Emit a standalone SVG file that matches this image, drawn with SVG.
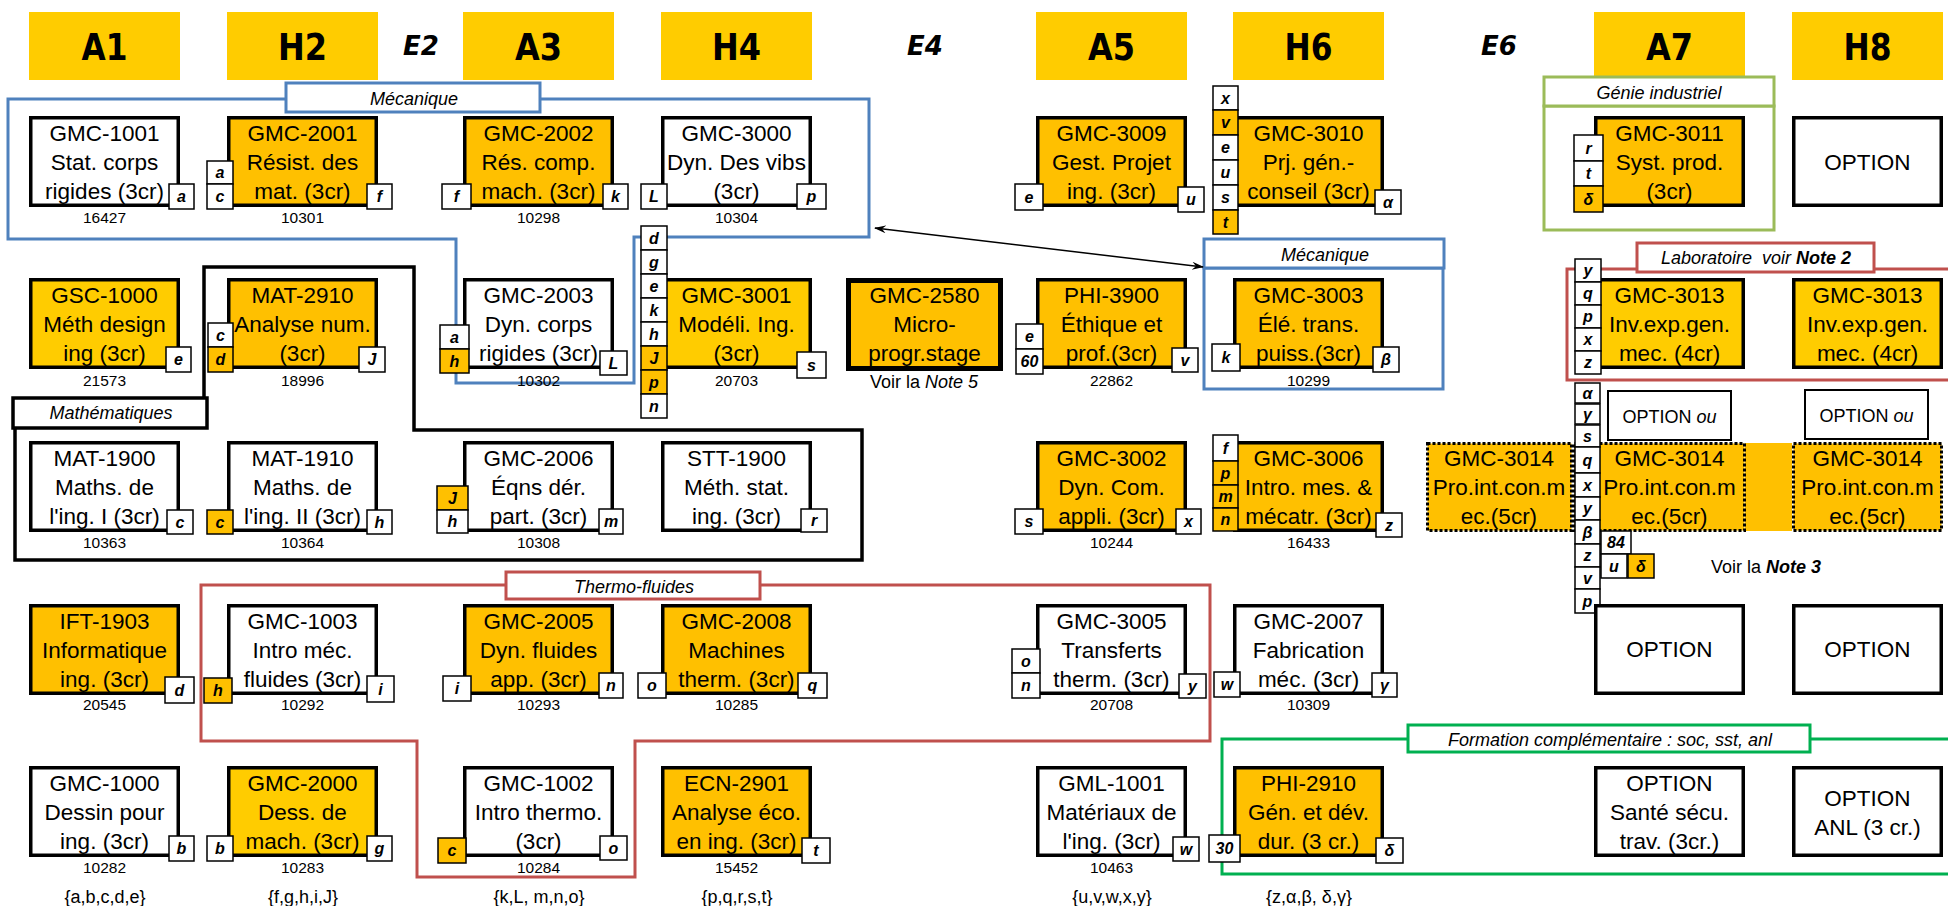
<svg xmlns="http://www.w3.org/2000/svg" width="1948" height="906" viewBox="0 0 1948 906">
<style>
.hd{fill:#FFCC00}
.ht{font-family:"DejaVu Sans",sans-serif;font-weight:bold;font-size:37px;text-anchor:middle}
.et{font-family:"DejaVu Sans",sans-serif;font-weight:bold;font-style:italic;font-size:26px;text-anchor:middle}
.bw{fill:#fff;stroke:#000;stroke-width:3.5}
.bo{fill:#FFC000;stroke:#000;stroke-width:3.5}
.by{fill:#FFCC00;stroke:#000;stroke-width:3.5}
.bd{fill:#FFC000;stroke:#000;stroke-width:3;stroke-dasharray:3 2}
.ct{font-family:"Liberation Sans",Arial,sans-serif;font-size:22.5px;text-anchor:middle;fill:#000}
.nm{font-family:"Liberation Sans",Arial,sans-serif;font-size:15.5px;text-anchor:middle}
.lw{fill:#fff;stroke:#000;stroke-width:1.5}
.lo{fill:#FFC000;stroke:#000;stroke-width:1.5}
.lt{font-family:"Liberation Sans",Arial,sans-serif;font-size:16px;font-weight:bold;font-style:italic;text-anchor:middle}
.gl{font-family:"Liberation Sans",Arial,sans-serif;font-size:18px;font-style:italic;text-anchor:middle}
.tx{font-family:"Liberation Sans",Arial,sans-serif;font-size:18px;text-anchor:middle}
.blue{fill:none;stroke:#4F81BD;stroke-width:3}
.bluel{fill:#fff;stroke:#4F81BD;stroke-width:3}
.red{fill:none;stroke:#C0504D;stroke-width:3}
.redl{fill:#fff;stroke:#C0504D;stroke-width:3}
.blk{fill:none;stroke:#000;stroke-width:3.5}
.blkl{fill:#fff;stroke:#000;stroke-width:3.5}
.gr1{fill:none;stroke:#9BBB59;stroke-width:3}
.gr1l{fill:#fff;stroke:#9BBB59;stroke-width:3}
.gr2{fill:none;stroke:#00B050;stroke-width:3}
.gr2l{fill:#fff;stroke:#00B050;stroke-width:3}
.opt{fill:#fff;stroke:#000;stroke-width:2}
</style>
<defs>
<marker id="ah" viewBox="0 0 12 10" refX="11" refY="5" markerWidth="12" markerHeight="10" markerUnits="userSpaceOnUse" orient="auto-start-reverse">
<path d="M0,1 L12,5 L0,9 L4,5 Z" fill="#000"/>
</marker>
</defs>
<rect width="1948" height="906" fill="#fff"/>

<g id="headers">
<rect class="hd" x="29" y="12" width="151" height="68"/><text class="ht" x="104.5" y="60" textLength="46" lengthAdjust="spacingAndGlyphs">A1</text>
<rect class="hd" x="227" y="12" width="151" height="68"/><text class="ht" x="302.5" y="60" textLength="49" lengthAdjust="spacingAndGlyphs">H2</text>
<rect class="hd" x="463" y="12" width="151" height="68"/><text class="ht" x="538.5" y="60" textLength="47" lengthAdjust="spacingAndGlyphs">A3</text>
<rect class="hd" x="661" y="12" width="151" height="68"/><text class="ht" x="736.5" y="60" textLength="49" lengthAdjust="spacingAndGlyphs">H4</text>
<rect class="hd" x="1036" y="12" width="151" height="68"/><text class="ht" x="1111.5" y="60" textLength="47" lengthAdjust="spacingAndGlyphs">A5</text>
<rect class="hd" x="1233" y="12" width="151" height="68"/><text class="ht" x="1308.5" y="60" textLength="48" lengthAdjust="spacingAndGlyphs">H6</text>
<rect class="hd" x="1594" y="12" width="151" height="68"/><text class="ht" x="1669.5" y="60" textLength="47" lengthAdjust="spacingAndGlyphs">A7</text>
<rect class="hd" x="1792" y="12" width="151" height="68"/><text class="ht" x="1867.5" y="60" textLength="48" lengthAdjust="spacingAndGlyphs">H8</text>
<text class="et" x="421" y="55">E2</text>
<text class="et" x="925" y="55">E4</text>
<text class="et" x="1499" y="55">E6</text>
</g>

<g id="connectors">
<polygon class="blue" points="8,99 869,99 869,237 634,237 634,383 456,383 456,239 8,239"/>
<rect class="bluel" x="286" y="83" width="254" height="29"/>
<text class="gl" x="414" y="105">Mécanique</text>
<rect class="blue" x="1204" y="268" width="239" height="121"/>
<rect class="bluel" x="1204" y="239" width="240" height="29"/>
<text class="gl" x="1325" y="261">Mécanique</text>
<polygon class="blk" points="15,413 15,560 862,560 862,430 414,430 414,267 204,267 204,413"/>
<rect class="blkl" x="13" y="398" width="194" height="30"/>
<text class="gl" x="111" y="419">Mathématiques</text>
<polygon class="red" points="201,585 1210,585 1210,741 635,741 635,877 417,877 417,741 201,741"/>
<rect class="redl" x="506" y="572" width="254" height="27"/>
<text class="gl" x="634" y="593">Thermo-fluides</text>
<polygon class="red" points="1965,269 1567,269 1567,380 1965,380"/>
<rect class="redl" x="1637" y="243" width="237" height="29"/>
<text class="gl" x="1756" y="264" style="white-space:pre">Laboratoire  voir <tspan font-weight="bold">Note 2</tspan></text>
<rect class="gr1" x="1544" y="106" width="230" height="124"/>
<rect class="gr1l" x="1544" y="77" width="230" height="29"/>
<text class="gl" x="1659" y="99">Génie industriel</text>
<polygon class="gr2" points="1965,739 1222,739 1222,874 1965,874"/>
<rect class="gr2l" x="1408" y="725" width="402" height="27"/>
<text class="gl" x="1610" y="746">Formation complémentaire : soc, sst, anl</text>
<line x1="875" y1="228" x2="1203" y2="267" stroke="#000" stroke-width="1.5" marker-start="url(#ah)" marker-end="url(#ah)"/>
</g>

<!-- Row 1 -->
<g id="GMC-1001">
<rect class="bw" x="30.75" y="117.75" width="147.5" height="87.5"/>
<text class="ct" x="104.5" y="141">GMC-1001</text><text class="ct" x="104.5" y="170">Stat. corps</text><text class="ct" x="104.5" y="199">rigides (3cr)</text>
<text class="nm" x="104.5" y="223">16427</text>
<rect class="lw" x="169" y="184" width="25" height="25"/><text class="lt" x="181.5" y="202">a</text>
</g>
<g id="GMC-2001">
<rect class="bo" x="228.75" y="117.75" width="147.5" height="87.5"/>
<text class="ct" x="302.5" y="141">GMC-2001</text><text class="ct" x="302.5" y="170">Résist. des</text><text class="ct" x="302.5" y="199">mat. (3cr)</text>
<text class="nm" x="302.5" y="223">10301</text>
<rect class="lw" x="207" y="161" width="26" height="23"/><text class="lt" x="220" y="178">a</text>
<rect class="lw" x="207" y="184" width="26" height="25"/><text class="lt" x="220" y="202">c</text>
<rect class="lw" x="367" y="184" width="25" height="25"/><text class="lt" x="379.5" y="202">f</text>
</g>
<g id="GMC-2002">
<rect class="bo" x="464.75" y="117.75" width="147.5" height="87.5"/>
<text class="ct" x="538.5" y="141">GMC-2002</text><text class="ct" x="538.5" y="170">Rés. comp.</text><text class="ct" x="538.5" y="199">mach. (3cr)</text>
<text class="nm" x="538.5" y="223">10298</text>
<rect class="lw" x="442" y="184" width="29" height="25"/><text class="lt" x="456.5" y="202">f</text>
<rect class="lw" x="603" y="184" width="25" height="25"/><text class="lt" x="615.5" y="202">k</text>
</g>
<g id="GMC-3000">
<rect class="bw" x="662.75" y="117.75" width="147.5" height="87.5"/>
<text class="ct" x="736.5" y="141">GMC-3000</text><text class="ct" x="736.5" y="170">Dyn. Des vibs</text><text class="ct" x="736.5" y="199">(3cr)</text>
<text class="nm" x="736.5" y="223">10304</text>
<rect class="lw" x="641" y="184" width="26" height="25"/><text class="lt" x="654" y="202">L</text>
<rect class="lw" x="797" y="184" width="29" height="25"/><text class="lt" x="811.5" y="202">p</text>
</g>
<g id="GMC-3009">
<rect class="bo" x="1037.75" y="117.75" width="147.5" height="87.5"/>
<text class="ct" x="1111.5" y="141">GMC-3009</text><text class="ct" x="1111.5" y="170">Gest. Projet</text><text class="ct" x="1111.5" y="199">ing. (3cr)</text>
<rect class="lw" x="1015" y="184" width="28" height="26"/><text class="lt" x="1029" y="202.5">e</text>
<rect class="lw" x="1178" y="187" width="26" height="25"/><text class="lt" x="1191" y="205">u</text>
</g>
<g id="GMC-3010">
<rect class="bo" x="1234.75" y="117.75" width="147.5" height="87.5"/>
<text class="ct" x="1308.5" y="141">GMC-3010</text><text class="ct" x="1308.5" y="170">Prj. gén.-</text><text class="ct" x="1308.5" y="199">conseil (3cr)</text>
<rect class="lw" x="1213" y="86" width="25" height="24"/><text class="lt" x="1225.5" y="103.5">x</text>
<rect class="lo" x="1213" y="110" width="25" height="25"/><text class="lt" x="1225.5" y="128">v</text>
<rect class="lw" x="1213" y="135" width="25" height="25"/><text class="lt" x="1225.5" y="153">e</text>
<rect class="lw" x="1213" y="160" width="25" height="25"/><text class="lt" x="1225.5" y="178">u</text>
<rect class="lw" x="1213" y="185" width="25" height="25"/><text class="lt" x="1225.5" y="203">s</text>
<rect class="lo" x="1213" y="210" width="25" height="24"/><text class="lt" x="1225.5" y="227.5">t</text>
<rect class="lw" x="1375" y="190" width="26" height="24"/><text class="lt" x="1388" y="207.5">α</text>
</g>
<g id="GMC-3011">
<rect class="bo" x="1595.75" y="117.75" width="147.5" height="87.5"/>
<text class="ct" x="1669.5" y="141">GMC-3011</text><text class="ct" x="1669.5" y="170">Syst. prod.</text><text class="ct" x="1669.5" y="199">(3cr)</text>
<rect class="lw" x="1574" y="135" width="29" height="26"/><text class="lt" x="1588.5" y="153.5">r</text>
<rect class="lw" x="1574" y="161" width="29" height="25"/><text class="lt" x="1588.5" y="179">t</text>
<rect class="lo" x="1574" y="186" width="29" height="26"/><text class="lt" x="1588.5" y="204.5">δ</text>
</g>
<g id="OPTION-H8-1">
<rect class="bw" x="1793.75" y="117.75" width="147.5" height="87.5"/>
<text class="ct" x="1867.5" y="170">OPTION</text>
</g>

<!-- Row 2 -->
<g id="GSC-1000">
<rect class="by" x="30.75" y="279.75" width="147.5" height="87.5"/>
<text class="ct" x="104.5" y="303">GSC-1000</text><text class="ct" x="104.5" y="332">Méth design</text><text class="ct" x="104.5" y="361">ing (3cr)</text>
<text class="nm" x="104.5" y="386">21573</text>
<rect class="lw" x="166" y="347" width="25" height="25"/><text class="lt" x="178.5" y="365">e</text>
</g>
<g id="MAT-2910">
<rect class="bo" x="228.75" y="279.75" width="147.5" height="87.5"/>
<text class="ct" x="302.5" y="303">MAT-2910</text><text class="ct" x="302.5" y="332">Analyse num.</text><text class="ct" x="302.5" y="361">(3cr)</text>
<text class="nm" x="302.5" y="386">18996</text>
<rect class="lw" x="208" y="323" width="25" height="24"/><text class="lt" x="220.5" y="340.5">c</text>
<rect class="lo" x="208" y="347" width="25" height="25"/><text class="lt" x="220.5" y="365">d</text>
<rect class="lw" x="359" y="347" width="26" height="25"/><text class="lt" x="372" y="365">J</text>
</g>
<g id="GMC-2003">
<rect class="bw" x="464.75" y="279.75" width="147.5" height="87.5"/>
<text class="ct" x="538.5" y="303">GMC-2003</text><text class="ct" x="538.5" y="332">Dyn. corps</text><text class="ct" x="538.5" y="361">rigides (3cr)</text>
<text class="nm" x="538.5" y="386">10302</text>
<rect class="lw" x="440" y="325" width="29" height="24"/><text class="lt" x="454.5" y="342.5">a</text>
<rect class="lo" x="440" y="349" width="29" height="24"/><text class="lt" x="454.5" y="366.5">h</text>
<rect class="lw" x="600" y="351" width="27" height="24"/><text class="lt" x="613.5" y="368.5">L</text>
</g>
<g id="GMC-3001">
<rect class="by" x="662.75" y="279.75" width="147.5" height="87.5"/>
<text class="ct" x="736.5" y="303">GMC-3001</text><text class="ct" x="736.5" y="332">Modéli. Ing.</text><text class="ct" x="736.5" y="361">(3cr)</text>
<text class="nm" x="736.5" y="386">20703</text>
<rect class="lw" x="641" y="226" width="26" height="24"/><text class="lt" x="654" y="243.5">d</text>
<rect class="lw" x="641" y="250" width="26" height="24"/><text class="lt" x="654" y="267.5">g</text>
<rect class="lw" x="641" y="274" width="26" height="24"/><text class="lt" x="654" y="291.5">e</text>
<rect class="lw" x="641" y="298" width="26" height="24"/><text class="lt" x="654" y="315.5">k</text>
<rect class="lw" x="641" y="322" width="26" height="24"/><text class="lt" x="654" y="339.5">h</text>
<rect class="lo" x="641" y="346" width="26" height="24"/><text class="lt" x="654" y="363.5">J</text>
<rect class="lo" x="641" y="370" width="26" height="24"/><text class="lt" x="654" y="387.5">p</text>
<rect class="lw" x="641" y="394" width="26" height="24"/><text class="lt" x="654" y="411.5">n</text>
<rect class="lw" x="797" y="352" width="29" height="26"/><text class="lt" x="811.5" y="370.5">s</text>
</g>
<g id="GMC-2580">
<rect fill="#FFC000" stroke="#000" stroke-width="5" x="848.5" y="280.5" width="152" height="88"/>
<text class="ct" x="924.5" y="303">GMC-2580</text><text class="ct" x="924.5" y="332">Micro-</text><text class="ct" x="924.5" y="361">progr.stage</text>
<text class="tx" x="924" y="388">Voir la <tspan font-style="italic">Note 5</tspan></text>
</g>
<g id="PHI-3900">
<rect class="bo" x="1037.75" y="279.75" width="147.5" height="87.5"/>
<text class="ct" x="1111.5" y="303">PHI-3900</text><text class="ct" x="1111.5" y="332">Éthique et</text><text class="ct" x="1111.5" y="361">prof.(3cr)</text>
<text class="nm" x="1111.5" y="386">22862</text>
<rect class="lw" x="1016" y="324" width="27" height="25"/><text class="lt" x="1029.5" y="342">e</text>
<rect class="lw" x="1016" y="349" width="27" height="25"/><text class="lt" x="1029.5" y="367">60</text>
<rect class="lw" x="1172" y="348" width="26" height="24"/><text class="lt" x="1185" y="365.5">v</text>
</g>
<g id="GMC-3003">
<rect class="bo" x="1234.75" y="279.75" width="147.5" height="87.5"/>
<text class="ct" x="1308.5" y="303">GMC-3003</text><text class="ct" x="1308.5" y="332">Élé. trans.</text><text class="ct" x="1308.5" y="361">puiss.(3cr)</text>
<text class="nm" x="1308.5" y="386">10299</text>
<rect class="lw" x="1212" y="344" width="28" height="27"/><text class="lt" x="1226" y="363">k</text>
<rect class="lw" x="1373" y="347" width="26" height="25"/><text class="lt" x="1386" y="365">β</text>
</g>
<g id="GMC-3013-A7">
<rect class="by" x="1595.75" y="279.75" width="147.5" height="87.5"/>
<text class="ct" x="1669.5" y="303">GMC-3013</text><text class="ct" x="1669.5" y="332">Inv.exp.gen.</text><text class="ct" x="1669.5" y="361">mec. (4cr)</text>
<rect class="lw" x="1575" y="259" width="26" height="23"/><text class="lt" x="1588" y="276">y</text>
<rect class="lw" x="1575" y="282" width="26" height="23"/><text class="lt" x="1588" y="299">q</text>
<rect class="lw" x="1575" y="305" width="26" height="23"/><text class="lt" x="1588" y="322">p</text>
<rect class="lw" x="1575" y="328" width="26" height="23"/><text class="lt" x="1588" y="345">x</text>
<rect class="lw" x="1575" y="351" width="26" height="23"/><text class="lt" x="1588" y="368">z</text>
</g>
<g id="GMC-3013-H8">
<rect class="by" x="1793.75" y="279.75" width="147.5" height="87.5"/>
<text class="ct" x="1867.5" y="303">GMC-3013</text><text class="ct" x="1867.5" y="332">Inv.exp.gen.</text><text class="ct" x="1867.5" y="361">mec. (4cr)</text>
</g>

<!-- Row 3 -->
<g id="MAT-1900">
<rect class="bw" x="30.75" y="442.75" width="147.5" height="87.5"/>
<text class="ct" x="104.5" y="466">MAT-1900</text><text class="ct" x="104.5" y="495">Maths. de</text><text class="ct" x="104.5" y="524">l'ing. I (3cr)</text>
<text class="nm" x="104.5" y="548">10363</text>
<rect class="lw" x="167" y="510" width="26" height="24"/><text class="lt" x="180" y="527.5">c</text>
</g>
<g id="MAT-1910">
<rect class="bw" x="228.75" y="442.75" width="147.5" height="87.5"/>
<text class="ct" x="302.5" y="466">MAT-1910</text><text class="ct" x="302.5" y="495">Maths. de</text><text class="ct" x="302.5" y="524">l'ing. II (3cr)</text>
<text class="nm" x="302.5" y="548">10364</text>
<rect class="lo" x="207" y="510" width="26" height="24"/><text class="lt" x="220" y="527.5">c</text>
<rect class="lw" x="367" y="510" width="25" height="24"/><text class="lt" x="379.5" y="527.5">h</text>
</g>
<g id="GMC-2006">
<rect class="bw" x="464.75" y="442.75" width="147.5" height="87.5"/>
<text class="ct" x="538.5" y="466">GMC-2006</text><text class="ct" x="538.5" y="495">Éqns dér.</text><text class="ct" x="538.5" y="524">part. (3cr)</text>
<text class="nm" x="538.5" y="548">10308</text>
<rect class="lo" x="437" y="486" width="31" height="24"/><text class="lt" x="452.5" y="503.5">J</text>
<rect class="lw" x="437" y="510" width="31" height="23"/><text class="lt" x="452.5" y="527">h</text>
<rect class="lw" x="599" y="509" width="24" height="25"/><text class="lt" x="611" y="527">m</text>
</g>
<g id="STT-1900">
<rect class="bw" x="662.75" y="442.75" width="147.5" height="87.5"/>
<text class="ct" x="736.5" y="466">STT-1900</text><text class="ct" x="736.5" y="495">Méth. stat.</text><text class="ct" x="736.5" y="524">ing. (3cr)</text>
<rect class="lw" x="801" y="509" width="26" height="23"/><text class="lt" x="814" y="526">r</text>
</g>
<g id="GMC-3002">
<rect class="bo" x="1037.75" y="442.75" width="147.5" height="87.5"/>
<text class="ct" x="1111.5" y="466">GMC-3002</text><text class="ct" x="1111.5" y="495">Dyn. Com.</text><text class="ct" x="1111.5" y="524">appli. (3cr)</text>
<text class="nm" x="1111.5" y="548">10244</text>
<rect class="lw" x="1015" y="509" width="28" height="25"/><text class="lt" x="1029" y="527">s</text>
<rect class="lw" x="1176" y="509" width="25" height="25"/><text class="lt" x="1188.5" y="527">x</text>
</g>
<g id="GMC-3006">
<rect class="bo" x="1234.75" y="442.75" width="147.5" height="87.5"/>
<text class="ct" x="1308.5" y="466">GMC-3006</text><text class="ct" x="1308.5" y="495">Intro. mes. &amp;</text><text class="ct" x="1308.5" y="524">mécatr. (3cr)</text>
<text class="nm" x="1308.5" y="548">16433</text>
<rect class="lw" x="1213" y="435" width="25" height="26"/><text class="lt" x="1225.5" y="453.5">f</text>
<rect class="lo" x="1213" y="461" width="25" height="24"/><text class="lt" x="1225.5" y="478.5">p</text>
<rect class="lo" x="1213" y="485" width="25" height="23"/><text class="lt" x="1225.5" y="502">m</text>
<rect class="lo" x="1213" y="508" width="25" height="23"/><text class="lt" x="1225.5" y="525">n</text>
<rect class="lw" x="1376" y="513" width="26" height="24"/><text class="lt" x="1389" y="530.5">z</text>
</g>
<g id="GMC-3014-E6">
<rect class="bd" x="1427.5" y="443.5" width="144" height="87"/>
<text class="ct" x="1499" y="466">GMC-3014</text><text class="ct" x="1499" y="495">Pro.int.con.m</text><text class="ct" x="1499" y="524">ec.(5cr)</text>
</g>
<g id="GMC-3014-A7">
<rect fill="#FFC000" x="1745" y="443" width="47" height="88"/>
<rect class="bd" x="1574.5" y="443.5" width="170" height="87"/>
<text class="ct" x="1669.5" y="466">GMC-3014</text><text class="ct" x="1669.5" y="495">Pro.int.con.m</text><text class="ct" x="1669.5" y="524">ec.(5cr)</text>
<rect class="opt" x="1608" y="391" width="123" height="49"/>
<text class="tx" x="1669.5" y="423">OPTION <tspan font-style="italic">ou</tspan></text>
<rect class="lw" x="1575" y="383" width="25" height="20"/><text class="lt" x="1587.5" y="398.5">α</text>
<rect class="lw" x="1575" y="404" width="25" height="20"/><text class="lt" x="1587.5" y="419.5">γ</text>
<rect class="lw" x="1575" y="425" width="25" height="22"/><text class="lt" x="1587.5" y="441.5">s</text>
<rect class="lw" x="1575" y="447" width="25" height="26"/><text class="lt" x="1587.5" y="465.5">q</text>
<rect class="lw" x="1575" y="473" width="25" height="24"/><text class="lt" x="1587.5" y="490.5">x</text>
<rect class="lw" x="1575" y="497" width="25" height="23"/><text class="lt" x="1587.5" y="514">y</text>
<rect class="lw" x="1575" y="520" width="25" height="24"/><text class="lt" x="1587.5" y="537.5">β</text>
<rect class="lw" x="1575" y="544" width="25" height="23"/><text class="lt" x="1587.5" y="561">z</text>
<rect class="lw" x="1575" y="567" width="25" height="22"/><text class="lt" x="1587.5" y="583.5">v</text>
<rect class="lw" x="1575" y="589" width="25" height="24"/><text class="lt" x="1587.5" y="606.5">p</text>
<rect class="lw" x="1601" y="531" width="30" height="23"/><text class="lt" x="1616" y="548">84</text>
<rect class="lw" x="1601" y="554" width="26" height="24"/><text class="lt" x="1614" y="571.5">u</text>
<rect class="lo" x="1628" y="554" width="26" height="24"/><text class="lt" x="1641" y="571.5">δ</text>
<text class="tx" x="1766" y="573">Voir la <tspan font-weight="bold" font-style="italic">Note 3</tspan></text>
</g>
<g id="GMC-3014-H8">
<rect class="bd" x="1793.5" y="443.5" width="148" height="87"/>
<text class="ct" x="1867.5" y="466">GMC-3014</text><text class="ct" x="1867.5" y="495">Pro.int.con.m</text><text class="ct" x="1867.5" y="524">ec.(5cr)</text>
<rect class="opt" x="1805" y="390" width="123" height="49"/>
<text class="tx" x="1866.5" y="422">OPTION <tspan font-style="italic">ou</tspan></text>
</g>

<!-- Row 4 -->
<g id="IFT-1903">
<rect class="bo" x="30.75" y="605.75" width="147.5" height="87.5"/>
<text class="ct" x="104.5" y="629">IFT-1903</text><text class="ct" x="104.5" y="658">Informatique</text><text class="ct" x="104.5" y="687">ing. (3cr)</text>
<text class="nm" x="104.5" y="710">20545</text>
<rect class="lw" x="165" y="677" width="29" height="26"/><text class="lt" x="179.5" y="695.5">d</text>
</g>
<g id="GMC-1003">
<rect class="bw" x="228.75" y="605.75" width="147.5" height="87.5"/>
<text class="ct" x="302.5" y="629">GMC-1003</text><text class="ct" x="302.5" y="658">Intro méc.</text><text class="ct" x="302.5" y="687">fluides (3cr)</text>
<text class="nm" x="302.5" y="710">10292</text>
<rect class="lo" x="204" y="678" width="28" height="25"/><text class="lt" x="218" y="696">h</text>
<rect class="lw" x="367" y="676" width="27" height="26"/><text class="lt" x="380.5" y="694.5">i</text>
</g>
<g id="GMC-2005">
<rect class="bo" x="464.75" y="605.75" width="147.5" height="87.5"/>
<text class="ct" x="538.5" y="629">GMC-2005</text><text class="ct" x="538.5" y="658">Dyn. fluides</text><text class="ct" x="538.5" y="687">app. (3cr)</text>
<text class="nm" x="538.5" y="710">10293</text>
<rect class="lw" x="443" y="676" width="28" height="25"/><text class="lt" x="457" y="694">i</text>
<rect class="lw" x="599" y="673" width="24" height="25"/><text class="lt" x="611" y="691">n</text>
</g>
<g id="GMC-2008">
<rect class="bo" x="662.75" y="605.75" width="147.5" height="87.5"/>
<text class="ct" x="736.5" y="629">GMC-2008</text><text class="ct" x="736.5" y="658">Machines</text><text class="ct" x="736.5" y="687">therm. (3cr)</text>
<text class="nm" x="736.5" y="710">10285</text>
<rect class="lw" x="638" y="673" width="28" height="25"/><text class="lt" x="652" y="691">o</text>
<rect class="lw" x="798" y="673" width="29" height="25"/><text class="lt" x="812.5" y="691">q</text>
</g>
<g id="GMC-3005">
<rect class="bw" x="1037.75" y="605.75" width="147.5" height="87.5"/>
<text class="ct" x="1111.5" y="629">GMC-3005</text><text class="ct" x="1111.5" y="658">Transferts</text><text class="ct" x="1111.5" y="687">therm. (3cr)</text>
<text class="nm" x="1111.5" y="710">20708</text>
<rect class="lw" x="1012" y="649" width="28" height="24"/><text class="lt" x="1026" y="666.5">o</text>
<rect class="lw" x="1012" y="673" width="28" height="25"/><text class="lt" x="1026" y="691">n</text>
<rect class="lw" x="1179" y="674" width="27" height="24"/><text class="lt" x="1192.5" y="691.5">y</text>
</g>
<g id="GMC-2007">
<rect class="bw" x="1234.75" y="605.75" width="147.5" height="87.5"/>
<text class="ct" x="1308.5" y="629">GMC-2007</text><text class="ct" x="1308.5" y="658">Fabrication</text><text class="ct" x="1308.5" y="687">méc. (3cr)</text>
<text class="nm" x="1308.5" y="710">10309</text>
<rect class="lw" x="1214" y="672" width="26" height="25"/><text class="lt" x="1227" y="690">w</text>
<rect class="lw" x="1372" y="673" width="25" height="24"/><text class="lt" x="1384.5" y="690.5">γ</text>
</g>
<g id="OPTION-A7-4">
<rect class="bw" x="1595.75" y="605.75" width="147.5" height="87.5"/>
<text class="ct" x="1669.5" y="657">OPTION</text>
</g>
<g id="OPTION-H8-4">
<rect class="bw" x="1793.75" y="605.75" width="147.5" height="87.5"/>
<text class="ct" x="1867.5" y="657">OPTION</text>
</g>

<!-- Row 5 -->
<g id="GMC-1000">
<rect class="bw" x="30.75" y="767.75" width="147.5" height="87.5"/>
<text class="ct" x="104.5" y="791">GMC-1000</text><text class="ct" x="104.5" y="820">Dessin pour</text><text class="ct" x="104.5" y="849">ing. (3cr)</text>
<text class="nm" x="104.5" y="873">10282</text>
<rect class="lw" x="169" y="836" width="25" height="25"/><text class="lt" x="181.5" y="854">b</text>
</g>
<g id="GMC-2000">
<rect class="by" x="228.75" y="767.75" width="147.5" height="87.5"/>
<text class="ct" x="302.5" y="791">GMC-2000</text><text class="ct" x="302.5" y="820">Dess. de</text><text class="ct" x="302.5" y="849">mach. (3cr)</text>
<text class="nm" x="302.5" y="873">10283</text>
<rect class="lw" x="207" y="836" width="26" height="25"/><text class="lt" x="220" y="854">b</text>
<rect class="lw" x="367" y="836" width="25" height="25"/><text class="lt" x="379.5" y="854">g</text>
</g>
<g id="GMC-1002">
<rect class="bw" x="464.75" y="767.75" width="147.5" height="87.5"/>
<text class="ct" x="538.5" y="791">GMC-1002</text><text class="ct" x="538.5" y="820">Intro thermo.</text><text class="ct" x="538.5" y="849">(3cr)</text>
<text class="nm" x="538.5" y="873">10284</text>
<rect class="lo" x="438" y="838" width="28" height="25"/><text class="lt" x="452" y="856">c</text>
<rect class="lw" x="600" y="836" width="27" height="24"/><text class="lt" x="613.5" y="853.5">o</text>
</g>
<g id="ECN-2901">
<rect class="bo" x="662.75" y="767.75" width="147.5" height="87.5"/>
<text class="ct" x="736.5" y="791">ECN-2901</text><text class="ct" x="736.5" y="820">Analyse éco.</text><text class="ct" x="736.5" y="849">en ing. (3cr)</text>
<text class="nm" x="736.5" y="873">15452</text>
<rect class="lw" x="802" y="838" width="28" height="25"/><text class="lt" x="816" y="856">t</text>
</g>
<g id="GML-1001">
<rect class="bw" x="1037.75" y="767.75" width="147.5" height="87.5"/>
<text class="ct" x="1111.5" y="791">GML-1001</text><text class="ct" x="1111.5" y="820">Matériaux de</text><text class="ct" x="1111.5" y="849">l'ing. (3cr)</text>
<text class="nm" x="1111.5" y="873">10463</text>
<rect class="lw" x="1173" y="837" width="26" height="24"/><text class="lt" x="1186" y="854.5">w</text>
</g>
<g id="PHI-2910">
<rect class="bo" x="1234.75" y="767.75" width="147.5" height="87.5"/>
<text class="ct" x="1308.5" y="791">PHI-2910</text><text class="ct" x="1308.5" y="820">Gén. et dév.</text><text class="ct" x="1308.5" y="849">dur. (3 cr.)</text>
<rect class="lw" x="1209" y="835" width="31" height="27"/><text class="lt" x="1224.5" y="854">30</text>
<rect class="lw" x="1376" y="838" width="27" height="25"/><text class="lt" x="1389.5" y="856">δ</text>
</g>
<g id="OPTION-A7-5">
<rect class="bw" x="1595.75" y="767.75" width="147.5" height="87.5"/>
<text class="ct" x="1669.5" y="791">OPTION</text><text class="ct" x="1669.5" y="820">Santé sécu.</text><text class="ct" x="1669.5" y="849">trav. (3cr.)</text>
</g>
<g id="OPTION-H8-5">
<rect class="bw" x="1793.75" y="767.75" width="147.5" height="87.5"/>
<text class="ct" x="1867.5" y="806">OPTION</text><text class="ct" x="1867.5" y="835">ANL (3 cr.)</text>
</g>

<g id="sets">
<text class="tx" x="105" y="903">{a,b,c,d,e}</text>
<text class="tx" x="303" y="903">{f,g,h,i,J}</text>
<text class="tx" x="539" y="903">{k,L, m,n,o}</text>
<text class="tx" x="737" y="903">{p,q,r,s,t}</text>
<text class="tx" x="1112" y="903">{u,v,w,x,y}</text>
<text class="tx" x="1309" y="903">{z,α,β, δ,γ}</text>
</g>
</svg>
